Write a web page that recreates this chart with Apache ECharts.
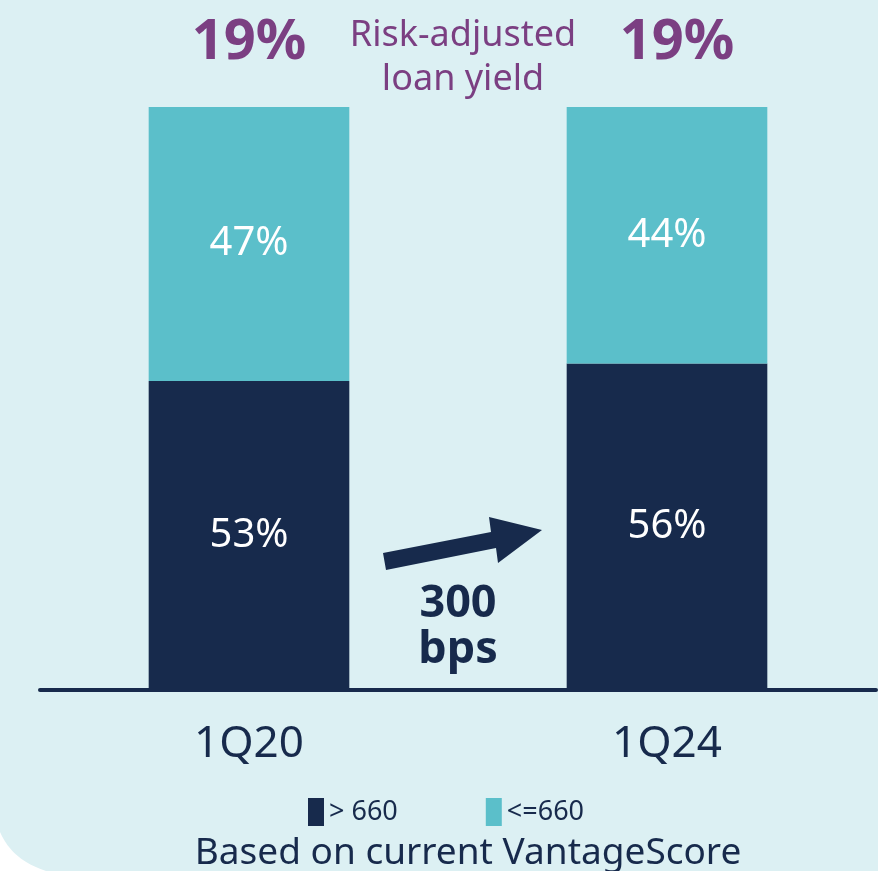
<!DOCTYPE html>
<html><head><meta charset="utf-8">
<script src="https://cdn.jsdelivr.net/npm/echarts@6/dist/echarts.min.js"></script>
<style>html,body{margin:0;padding:0;background:#dcf0f3;}#c{width:878px;height:871px;}</style>
</head><body><div id="c"></div>
<script>
const categories = ['1Q20', '1Q24'];
const above660 = [53, 56];
const below660 = [47, 44];
const yieldLabels = ['19%', '19%'];
const seriesNames = ['> 660', '<=660'];

const NAVY = '#172a4c', TEAL = '#5bbfca', PURPLE = '#7b3f82';
const FONT = 'Noto Sans';
const corner = [[0, 832]];
for (let i = 1; i <= 12; i++) {
  const t = i / 12;
  corner.push([2 * (1 - t) * t * 12 + t * t * 46, (1 - t) * (1 - t) * 832 + 2 * (1 - t) * t * 860 + t * t * 871]);
}
corner.push([0, 871]);

const chart = echarts.init(document.getElementById('c'));
chart.setOption({
  backgroundColor: '#dcf0f3',
  animation: false,
  textStyle: { fontFamily: FONT },
  grid: { left: 40, right: 2, top: 107, bottom: 181 },
  legend: {
    data: seriesNames, bottom: 40, left: 303, itemWidth: 16, itemHeight: 28, itemGap: 88,
    icon: 'rect', textStyle: { color: NAVY, fontSize: 27, fontFamily: FONT, padding: [0,0,0,0] }
  },
  title: [
    { text: 'Risk-adjusted\nloan yield', left: 458, top: 9, textAlign: 'center',
      textStyle: { color: PURPLE, fontSize: 36, fontWeight: 'normal', fontFamily: FONT, lineHeight: 44 } },
    { text: '300\nbps', left: 453, top: 576, textAlign: 'center',
      textStyle: { color: NAVY, fontSize: 45, fontWeight: 'bold', fontFamily: FONT, lineHeight: 46 } },
    { text: 'Based on current VantageScore', left: 463, bottom: -6, textAlign: 'center',
      textStyle: { color: NAVY, fontSize: 37, fontWeight: 'normal', fontFamily: FONT } }
  ],
  xAxis: {
    type: 'category', data: categories,
    axisLine: { lineStyle: { color: NAVY, width: 4 } },
    axisTick: { show: false },
    axisLabel: { color: NAVY, fontSize: 44, margin: 32, fontFamily: FONT }
  },
  yAxis: { type: 'value', min: 0, max: 100, show: false, splitLine: { show: false } },
  series: [
    { name: seriesNames[0], type: 'bar', stack: 's', data: above660, barWidth: '48%',
      itemStyle: { color: NAVY }, z: 1,
      label: { show: true, position: 'inside', color: '#fff', fontSize: 40, fontFamily: FONT, formatter: p => p.value + '%' } },
    { name: seriesNames[1], type: 'bar', stack: 's', data: below660,
      itemStyle: { color: TEAL }, z: 1,
      label: { show: true, position: 'inside', color: '#fff', fontSize: 40, fontFamily: FONT, formatter: p => p.value + '%' } },
    { name: 'yield', type: 'bar', stack: 's',
      data: [{ value: 0 }, { value: 0, label: { offset: [10, 0] } }],
      itemStyle: { color: 'transparent' },
      label: { show: true, position: 'top', distance: 36, color: PURPLE, fontSize: 56, fontWeight: 'bold',
        fontFamily: FONT, formatter: p => yieldLabels[p.dataIndex] }, z: 2 }
  ],
  graphic: [
    { type: 'polygon', shape: { points: corner }, style: { fill: '#ffffff' }, silent: true },
    { type: 'polygon', shape: { points: [[383,553],[491,532],[489,517],[542,530],[498,563],[496,548],[386,570]] },
      style: { fill: NAVY } }
  ]
});
</script></body></html>
